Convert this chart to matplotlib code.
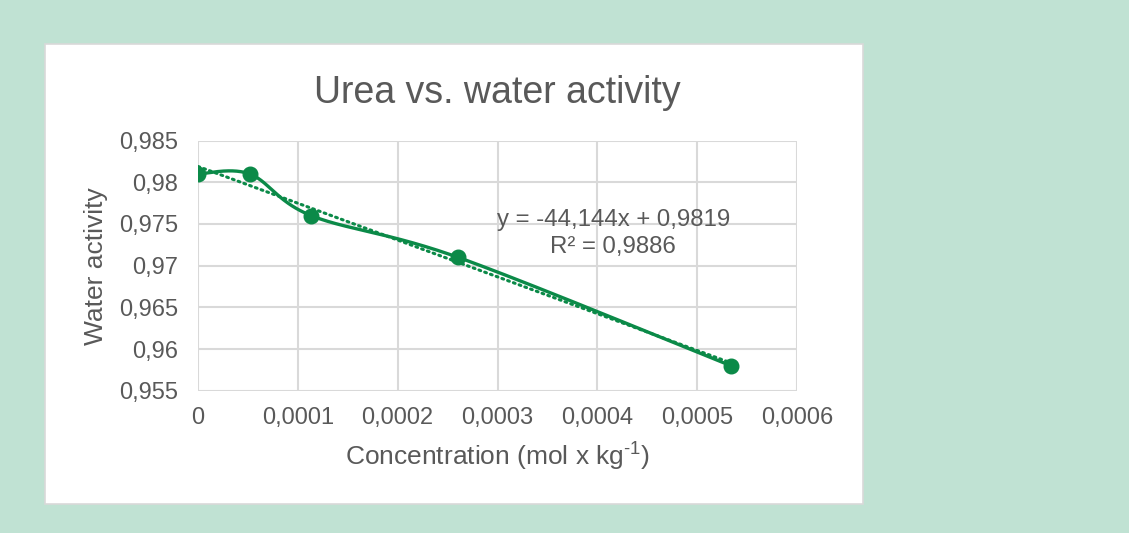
import numpy as np
import matplotlib.pyplot as plt
from matplotlib.patches import Rectangle

plt.rcParams['font.family'] = ['Liberation Sans', 'DejaVu Sans']
plt.rcParams['mathtext.fontset'] = 'custom'
plt.rcParams['mathtext.rm'] = 'Liberation Sans'

# measurements
conc = [0.0, 0.0000518, 0.0001134, 0.0002605, 0.0005337]
aw = [0.981, 0.981, 0.976, 0.971, 0.958]

# linear trendline
slope = -44.144
intercept = 0.9819
r2 = 0.9886

x_ticks = [0, 0.0001, 0.0002, 0.0003, 0.0004, 0.0005, 0.0006]
y_ticks = [0.955, 0.96, 0.965, 0.97, 0.975, 0.98, 0.985]

green = '#0b8a48'
txt = '#595959'
grid = '#d9d9d9'


def smooth(xs, ys, n=60):
    # Catmull-Rom style bezier through the points, ends duplicated
    p = np.column_stack([xs, ys])
    p = np.vstack([p[0], p, p[-1]])
    out = []
    for i in range(1, len(p) - 2):
        p0, p1, p2, p3 = p[i - 1], p[i], p[i + 1], p[i + 2]
        c1 = p1 + (p2 - p0) / 6
        c2 = p2 - (p3 - p1) / 6
        t = np.linspace(0, 1, n)[:, None]
        seg = ((1 - t) ** 3) * p1 + 3 * ((1 - t) ** 2) * t * c1 + 3 * (1 - t) * t ** 2 * c2 + t ** 3 * p2
        out.append(seg)
    out = np.vstack(out)
    return out[:, 0], out[:, 1]


def comma(v, fmt):
    return (fmt % v).replace('.', ',')


fig = plt.figure(figsize=(11.29, 5.33), dpi=100)
fig.patch.set_facecolor('#c0e2d3')
panel = Rectangle((45 / 1129, 1 - 504 / 533), 818 / 1129, 460 / 533,
                  transform=fig.transFigure, facecolor='white',
                  edgecolor=grid, linewidth=1.2, zorder=-5)
fig.add_artist(panel)

ax = fig.add_axes([198 / 1129, 1 - 390.7 / 533, 599 / 1129, 250.1 / 533])
ax.set_zorder(2)
ax.set_facecolor('none')

sx, sy = smooth(conc, aw)
ax.plot(sx, sy, color=green, linewidth=2.4, zorder=3)
ax.plot(conc, aw, 'o', color=green, markersize=10.5, zorder=4)

tx = np.array([min(conc), max(conc)])
ax.plot(tx, slope * tx + intercept, color=green, linewidth=2.2,
        linestyle=(0, (0.6, 1.4)), dash_capstyle='round', zorder=2)

ax.set_xlim(0, 0.0006)
ax.set_ylim(0.955, 0.985)
ax.set_xticks(x_ticks)
ax.set_yticks(y_ticks)
ax.set_xticklabels([comma(v, '%g') if v == 0 else comma(v, '%.4f') for v in x_ticks])
ax.set_yticklabels([comma(v, '%g') for v in y_ticks])
ax.tick_params(length=0, colors=txt, labelsize=17)
ax.tick_params(axis='x', pad=12)
ax.tick_params(axis='y', pad=14.5)
ax.grid(True, color=grid, linewidth=1.5)
ax.set_axisbelow(True)
for s in ax.spines.values():
    s.set_visible(False)

ax.set_title('Urea vs. water activity', fontsize=27, color=txt, pad=27)
ax.set_xlabel('Concentration (mol x kg$^{\\mathregular{\u20101}}$)', fontsize=19, color=txt, labelpad=7)
ax.set_ylabel('Water activity', fontsize=19, color=txt, labelpad=8)

ax.text(0.000416, 0.97548, 'y = %sx + %s' % (comma(slope, '%.3f'), comma(intercept, '%.4f')),
        ha='center', va='center', fontsize=17.3, color=txt)
ax.text(0.000416, 0.97224, 'R² = %s' % comma(r2, '%.4f'),
        ha='center', va='center', fontsize=17.3, color=txt)

fig.savefig('out.png', dpi=100, facecolor=fig.get_facecolor())
